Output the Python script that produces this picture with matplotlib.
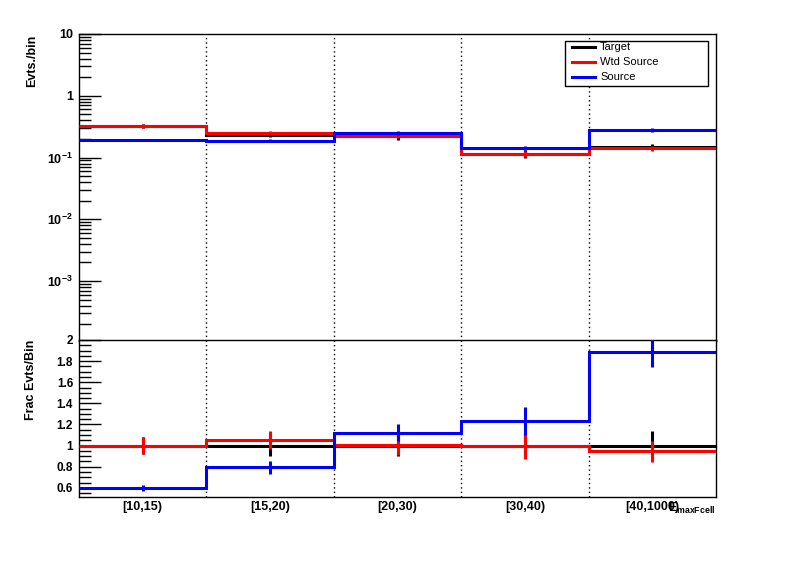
import numpy as np
import matplotlib
matplotlib.use('Agg')
import matplotlib.pyplot as plt
from matplotlib.ticker import FixedLocator, FuncFormatter, MultipleLocator, NullFormatter
from matplotlib.lines import Line2D
from matplotlib.patches import Rectangle

plt.rcParams['font.family'] = ['Liberation Sans', 'DejaVu Sans']
plt.rcParams['mathtext.fontset'] = 'custom'
plt.rcParams['mathtext.rm'] = 'Liberation Sans'
plt.rcParams['mathtext.bf'] = 'Liberation Sans:bold'
plt.rcParams['mathtext.it'] = 'Liberation Sans:italic'
plt.rcParams['mathtext.default'] = 'bf'

# ---------------- data ----------------
bin_labels = ["[10,15)", "[15,20)", "[20,30)", "[30,40)", "[40,1000)"]

target = [0.326, 0.235, 0.223, 0.116, 0.150]
target_err = [0.020, 0.020, 0.030, 0.018, 0.017]
wtd_source = [0.326, 0.250, 0.227, 0.115, 0.142]
wtd_source_err = [0.020, 0.020, 0.020, 0.014, 0.014]
source = [0.193, 0.186, 0.250, 0.143, 0.282]
source_err = [0.006, 0.010, 0.015, 0.012, 0.020]

ratio_target = [1.0, 1.0, 1.0, 1.0, 1.0]
ratio_target_err = [0.08, 0.10, 0.10, 0.12, 0.134]
ratio_wtd = [1.0, 1.056, 1.01, 0.993, 0.947]
ratio_wtd_err = [0.08, 0.085, 0.10, 0.12, 0.10]
ratio_src = [0.60, 0.794, 1.12, 1.234, 1.884]
ratio_src_err = [0.03, 0.06, 0.08, 0.135, 0.14]

series_names = ["Target", "Wtd Source", "Source"]
series_colors = ["black", "#ff0000", "#0000ff"]

# ---------------- layout ----------------
W, H = 796, 572
fig = plt.figure(figsize=(W / 100, H / 100), dpi=100)


def rect(l, t, r, b):
    return [l / W, 1 - b / H, (r - l) / W, (b - t) / H]


ax1 = fig.add_axes(rect(79, 34, 716, 341))
ax2 = fig.add_axes(rect(79, 340, 716, 497))

nb = len(bin_labels)
edges = np.arange(nb + 1)
centers = edges[:-1] + 0.5
LW = 2.2

top_sets = [(target, target_err), (wtd_source, wtd_source_err), (source, source_err)]
rat_sets = [(ratio_target, ratio_target_err), (ratio_wtd, ratio_wtd_err), (ratio_src, ratio_src_err)]

for ax, sets in ((ax1, top_sets), (ax2, rat_sets)):
    for e in edges[1:-1]:
        ax.axvline(e, color='black', lw=1.0, ls=(0, (1, 2.2)), zorder=1)
    for (vals, errs), col in zip(sets, series_colors):
        ax.stairs(vals, edges, baseline=None, color=col, lw=LW, zorder=3)
        ax.errorbar(centers, vals, yerr=errs, fmt='none', ecolor=col,
                    elinewidth=LW, capsize=0, zorder=3)
    ax.set_xlim(edges[0], edges[-1])
    for s in ax.spines.values():
        s.set_linewidth(1.0)

# top panel
ax1.set_yscale('log')
ax1.set_ylim(1.07e-4, 10)
ax1.yaxis.set_major_locator(FixedLocator([1e-3, 1e-2, 1e-1, 1, 10]))
minors = [m * 10.0 ** d for d in range(-4, 1) for m in range(2, 10)]
ax1.yaxis.set_minor_locator(FixedLocator(minors))
ax1.yaxis.set_minor_formatter(NullFormatter())


def logfmt(v, pos):
    if abs(v - 10) < 1e-9:
        return "10"
    if abs(v - 1) < 1e-9:
        return "1"
    return r"$10^{%d}$" % int(round(np.log10(v)))


ax1.yaxis.set_major_formatter(FuncFormatter(logfmt))
ax1.tick_params(axis='y', which='major', direction='in', length=15.8, width=1,
                labelsize=9, pad=4.3, right=False)
ax1.tick_params(axis='y', which='minor', direction='in', length=8.6, width=1, right=False)
ax1.tick_params(axis='x', which='both', bottom=False, top=False, labelbottom=False)
for t in ax1.get_yticklabels():
    t.set_fontweight('bold')

# ratio panel
ax2.set_ylim(0.513, 2.0)
ax2.yaxis.set_major_locator(MultipleLocator(0.2))
ax2.yaxis.set_minor_locator(MultipleLocator(0.05))
ax2.yaxis.set_major_formatter(FuncFormatter(lambda v, p: ("%g" % round(v, 2))))
ax2.tick_params(axis='y', which='major', direction='in', length=15.8, width=1,
                labelsize=8.5, pad=4.3, right=False)
ax2.tick_params(axis='y', which='minor', direction='in', length=8.6, width=1, right=False)
ax2.set_xticks(centers)
ax2.set_xticklabels(bin_labels)
ax2.tick_params(axis='x', which='both', length=0, labelsize=9, pad=3)
for t in ax2.get_yticklabels() + ax2.get_xticklabels():
    t.set_fontweight('bold')

# axis titles
fig.text(32 / W, 1 - 35 / H, "Evts./bin", rotation=90, ha='center', va='top',
         fontsize=9, fontweight='bold')
fig.text(31.5 / W, 1 - 340 / H, "Frac Evts/Bin", rotation=90, ha='center', va='top',
         fontsize=9, fontweight='bold')
fig.text(668 / W, 1 - 501 / H, r"$E_{maxFcell}$", ha='left', va='top', fontsize=9)

# legend
fig.patches.append(Rectangle((565 / W, 1 - 86 / H), (708 - 565) / W, 45 / H,
                             transform=fig.transFigure, fill=True, facecolor='white',
                             edgecolor='black', lw=1.0, zorder=5))
for i, (name, col) in enumerate(zip(series_names, series_colors)):
    yy = 1 - (47 + 15 * i) / H
    fig.lines.append(Line2D([572 / W, 595 / W], [yy, yy], transform=fig.transFigure,
                            color=col, lw=LW, zorder=6))
    fig.text(600 / W, yy, name, ha='left', va='center', fontsize=8, zorder=6)

fig.savefig("out.png", dpi=100)
